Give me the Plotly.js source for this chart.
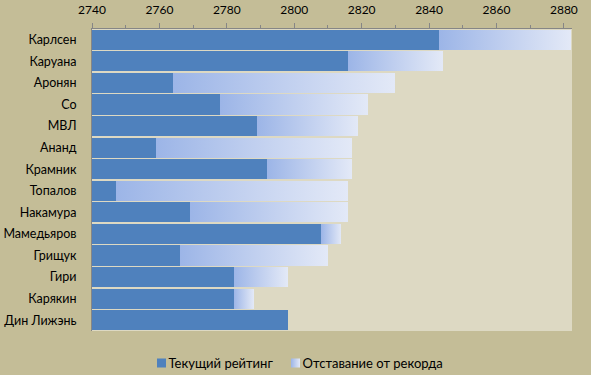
<!DOCTYPE html>
<html><head><meta charset="utf-8">
<script src="https://cdn.plot.ly/plotly-3.0.1.min.js"></script>
<style>html,body{margin:0;padding:0;background:#C4BD97;}#chart{width:591px;height:375px;}</style>
</head><body><div id="chart"></div>
<script>
const players = ["Карлсен","Каруана","Аронян","Со","МВЛ","Ананд","Крамник","Топалов","Накамура","Мамедьяров","Грищук","Гири","Карякин","Дин Лижэнь"];
const currentRating = [2843,2816,2764,2778,2789,2759,2792,2747,2769,2808,2766,2782,2782,2798];
const recordRating  = [2882,2844,2830,2822,2819,2817,2817,2816,2816,2814,2810,2798,2788,2798];
const gapToRecord = currentRating.map((v,i)=>recordRating[i]-v);
const xTicks = [2740,2760,2780,2800,2820,2840,2860,2880];

const font = "Lato, 'Open Sans', sans-serif";
const data = [
  {type:'bar', orientation:'h', name:'Текущий рейтинг', y:players, x:currentRating,
   marker:{color:'#4F81BD', line:{width:0}}},
  {type:'bar', orientation:'h', name:'Отставание от рекорда', y:players, x:gapToRecord,
   marker:{color:'#C3D1EF', line:{width:0}}}
];
const layout = {
  width:591, height:375,
  paper_bgcolor:'#C4BD97', plot_bgcolor:'#DDD9C3',
  margin:{l:92, r:19, t:29, b:44},
  barmode:'stack', bargap:0.07,
  font:{family:font, size:12, color:'#000'},
  xaxis:{side:'top', range:[2740,2882.4], tickvals:xTicks, ticktext:xTicks.map(String),
    showgrid:false, zeroline:false, showline:true, linecolor:'#868686', linewidth:1,
    ticks:'outside', ticklen:5, tickcolor:'#868686', ticklabelstandoff:4,
    minor:{dtick:10, tick0:2740, ticks:'outside', ticklen:3, tickcolor:'#868686', showgrid:false},
    tickfont:{family:font, size:12}},
  yaxis:{type:'category', categoryorder:'array', categoryarray:players, autorange:'reversed',
    showgrid:false, zeroline:false, showline:true, linecolor:'#868686', linewidth:1,
    ticks:'', ticklabelstandoff:12, tickfont:{family:font, size:12.5}},
  showlegend:true,
  legend:{orientation:'h', xref:'container', yref:'container', x:0.505, xanchor:'center', y:0.032, yanchor:'middle',
    font:{family:font, size:13}, bgcolor:'rgba(0,0,0,0)', itemwidth:30, traceorder:'normal'}
};
Plotly.newPlot('chart', data, layout, {displayModeBar:false, staticPlot:true}).then(gd=>{
  const svg = gd.querySelector('.main-svg');
  const ns = 'http://www.w3.org/2000/svg';
  let defs = svg.querySelector('defs');
  const g = document.createElementNS(ns,'linearGradient');
  g.setAttribute('id','gapGrad'); g.setAttribute('x1','0'); g.setAttribute('y1','0'); g.setAttribute('x2','1'); g.setAttribute('y2','0');
  [['0','#9CB5E7'],['0.5','#C0CFEF'],['1','#E3E9F7']].forEach(([o,c])=>{
    const s=document.createElementNS(ns,'stop'); s.setAttribute('offset',o); s.setAttribute('stop-color',c); g.appendChild(s);
  });
  defs.appendChild(g);
  const traces = gd.querySelectorAll('.barlayer .trace');
  if (traces[1]) traces[1].querySelectorAll('path').forEach(p=>{p.style.fill='url(#gapGrad)';});
  // legend styling: smaller swatch, text close to it, positioned like the reference
  const legItems = gd.querySelectorAll('.legend .traces');
  const targetSwatchLeft = [157, 291];
  legItems.forEach((item, i)=>{
    const sw = item.querySelector('.legendpoints path');
    if (!sw) return;
    sw.setAttribute('d','M4.5,4.5H-4.5V-4.5H4.5Z');
    if (i===1) sw.style.fill='url(#gapGrad)';
    const txt = item.querySelector('text.legendtext');
    // swatch centered at local x=20 -> right edge 24.5
    if (txt) txt.setAttribute('x','27');
    const r = sw.getBoundingClientRect();
    const dx = targetSwatchLeft[i] - r.left;
    const tr = item.getAttribute('transform') || '';
    const m = tr.match(/translate\(\s*([-\d.]+)[ ,]+([-\d.]+)\s*\)/);
    if (m) item.setAttribute('transform', 'translate(' + (parseFloat(m[1])+dx) + ',' + m[2] + ')');
  });
});
</script></body></html>
